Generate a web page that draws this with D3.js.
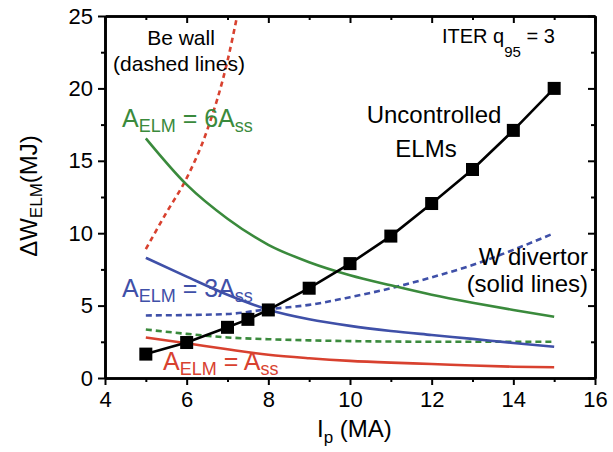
<!DOCTYPE html>
<html>
<head>
<meta charset="utf-8">
<script src="https://cdn.jsdelivr.net/npm/d3@7"></script>
<style>
  body { margin: 0; background: #fff; }
  text { font-family: "Liberation Sans", Arial, sans-serif; }
</style>
</head>
<body>
<div id="chart"></div>
<script>
// plasma current (MA)
const ipElm = [5, 6, 7, 7.5, 8, 9, 10, 11, 12, 13, 14, 15]
const uncontrolled = [1.65, 2.45, 3.5, 4.05, 4.7, 6.2, 7.9, 9.8, 12.05, 14.4, 17.1, 20.0]

const ipCurve = [5, 6, 7, 8, 9, 10, 11, 12, 13, 14, 15]
// W divertor (solid)
const wA1 = [2.8, 2.4, 1.98, 1.6, 1.36, 1.18, 1.06, 0.97, 0.86, 0.78, 0.74]
const wA3 = [8.3, 7.0, 5.75, 4.72, 4.06, 3.6, 3.25, 2.97, 2.7, 2.42, 2.16]
const wA6 = [16.55, 13.35, 11.0, 9.2, 8.0, 7.1, 6.4, 5.75, 5.2, 4.7, 4.23]
// Be wall (dashed)
const beA3 = [4.32, 4.35, 4.42, 4.75, 5.05, 5.58, 6.2, 6.95, 7.8, 8.85, 10.0]
const beA6 = [3.35, 3.05, 2.8, 2.68, 2.6, 2.55, 2.52, 2.5, 2.5, 2.5, 2.5]
const ipBeA1 = [5, 5.5, 6, 6.5, 7, 7.25]
const beA1 = [8.9, 11.4, 13.8, 17.1, 21.9, 25.2]

const xMajor = [4, 6, 8, 10, 12, 14, 16]
const xMinor = [5, 7, 9, 11, 13, 15]
const yMajor = [0, 5, 10, 15, 20, 25]
const yMinor = [2.5, 7.5, 12.5, 17.5, 22.5]

const RED = "#d8412f", BLUE = "#3f50a8", GREEN = "#3a8a3c"

const W = 613, H = 452
const M = { TOP: 16, LEFT: 105, RIGHT: 18, BOTTOM: 74 }
const PW = W - M.LEFT - M.RIGHT
const PH = H - M.TOP - M.BOTTOM

const svg = d3.select("#chart").append("svg")
	.attr("width", W).attr("height", H)
const g = svg.append("g").attr("transform", `translate(${M.LEFT}, ${M.TOP})`)

const x = d3.scaleLinear().domain([4, 16]).range([0, PW])
const y = d3.scaleLinear().domain([0, 25]).range([PH, 0])

g.append("clipPath").attr("id", "clip")
	.append("rect").attr("width", PW).attr("height", PH)

const line = d3.line()
	.x(d => x(d[0])).y(d => y(d[1]))
	.curve(d3.curveMonotoneX)

const curves = [
	{ xs: ipCurve, ys: beA6, color: GREEN, dash: "6,4" },
	{ xs: ipCurve, ys: beA3, color: BLUE, dash: "6,4" },
	{ xs: ipBeA1, ys: beA1, color: RED, dash: "5,4" },
	{ xs: ipCurve, ys: wA6, color: GREEN, dash: null },
	{ xs: ipCurve, ys: wA3, color: BLUE, dash: null },
	{ xs: ipCurve, ys: wA1, color: RED, dash: null }
]

const lines = g.append("g").attr("clip-path", "url(#clip)")
curves.forEach(c => {
	lines.append("path")
		.datum(d3.zip(c.xs, c.ys))
		.attr("d", line)
		.attr("fill", "none")
		.attr("stroke", c.color)
		.attr("stroke-width", 2.6)
		.attr("stroke-dasharray", c.dash)
})

// uncontrolled ELMs
g.append("path")
	.datum(d3.zip(ipElm, uncontrolled))
	.attr("d", d3.line().x(d => x(d[0])).y(d => y(d[1])))
	.attr("fill", "none")
	.attr("stroke", "#000")
	.attr("stroke-width", 2.6)

g.selectAll("rect.sq")
	.data(d3.zip(ipElm, uncontrolled))
	.enter().append("rect")
		.attr("class", "sq")
		.attr("x", d => x(d[0]) - 6.5)
		.attr("y", d => y(d[1]) - 6.5)
		.attr("width", 13)
		.attr("height", 13)
		.attr("fill", "#000")

// axes
function styleAxis(sel) {
	sel.select(".domain").attr("stroke-width", 2.6).attr("stroke", "#000")
	sel.selectAll(".tick line").attr("stroke-width", 2).attr("stroke", "#000")
	sel.selectAll(".tick text").attr("font-size", 22).attr("fill", "#000")
		.attr("font-family", '"Liberation Sans", Arial, sans-serif')
}

const mk = (axis, scale, vals, size, fmt, tr) => {
	const a = g.append("g").attr("transform", tr)
		.call(axis(scale).tickValues(vals).tickSize(size).tickSizeOuter(0)
			.tickPadding(fmt ? (axis === d3.axisBottom ? 6 : 5) : 0)
			.tickFormat(fmt ? d3.format("d") : ""))
	styleAxis(a)
	return a
}

mk(d3.axisBottom, x, xMinor, 4, false, `translate(0, ${PH})`)
mk(d3.axisBottom, x, xMajor, 7, true, `translate(0, ${PH})`)
mk(d3.axisTop, x, xMinor, -4, false, "translate(0,0)")
mk(d3.axisTop, x, xMajor, -7, false, "translate(0,0)")
mk(d3.axisLeft, y, yMinor, 4, false, "translate(0,0)")
mk(d3.axisLeft, y, yMajor, 7, true, "translate(0,0)")
mk(d3.axisRight, y, yMinor, -4, false, `translate(${PW},0)`)
mk(d3.axisRight, y, yMajor, -7, false, `translate(${PW},0)`)

// axis titles
const yt = svg.append("text")
	.attr("transform", "translate(37, 196) rotate(-90)")
	.attr("text-anchor", "middle")
	.attr("font-size", 24)
yt.append("tspan").text("ΔW")
yt.append("tspan").attr("font-size", 17).attr("dy", 5).text("ELM")
yt.append("tspan").attr("dy", -5).text("(MJ)")

const xt = svg.append("text")
	.attr("x", 317).attr("y", 437)
	.attr("font-size", 24)
xt.append("tspan").text("I")
xt.append("tspan").attr("font-size", 17).attr("dy", 6).text("p")
xt.append("tspan").attr("dy", -6).text(" (MA)")

// annotations
function note(txt, px, py, size, anchor, color) {
	svg.append("text")
		.attr("x", px).attr("y", py)
		.attr("font-size", size)
		.attr("text-anchor", anchor)
		.attr("fill", color || "#000")
		.text(txt)
}
note("Be wall", 181, 45, 21, "middle")
note("(dashed lines)", 179, 71, 21, "middle")
note("Uncontrolled", 434, 123, 24, "middle")
note("ELMs", 426, 157, 24, "middle")
note("W divertor", 588, 265, 24, "end")
note("(solid lines)", 588, 292, 24, "end")

const iter = svg.append("text").attr("x", 442).attr("y", 43).attr("font-size", 20)
iter.append("tspan").text("ITER q")
iter.append("tspan").attr("font-size", 15).attr("dy", 14).text("95")
iter.append("tspan").attr("dy", -14).text(" = 3")

function aelm(px, py, mult, color) {
	const t = svg.append("text").attr("x", px).attr("y", py)
		.attr("font-size", 25).attr("fill", color)
	t.append("tspan").text("A")
	t.append("tspan").attr("font-size", 18).attr("dy", 5).text("ELM")
	t.append("tspan").attr("dy", -5).text(" = " + mult + "A")
	t.append("tspan").attr("font-size", 18).attr("dy", 5).text("ss")
}
aelm(122, 127, "6", GREEN)
aelm(122, 297, "3", BLUE)
aelm(163, 370, "", RED)
</script>
</body>
</html>
